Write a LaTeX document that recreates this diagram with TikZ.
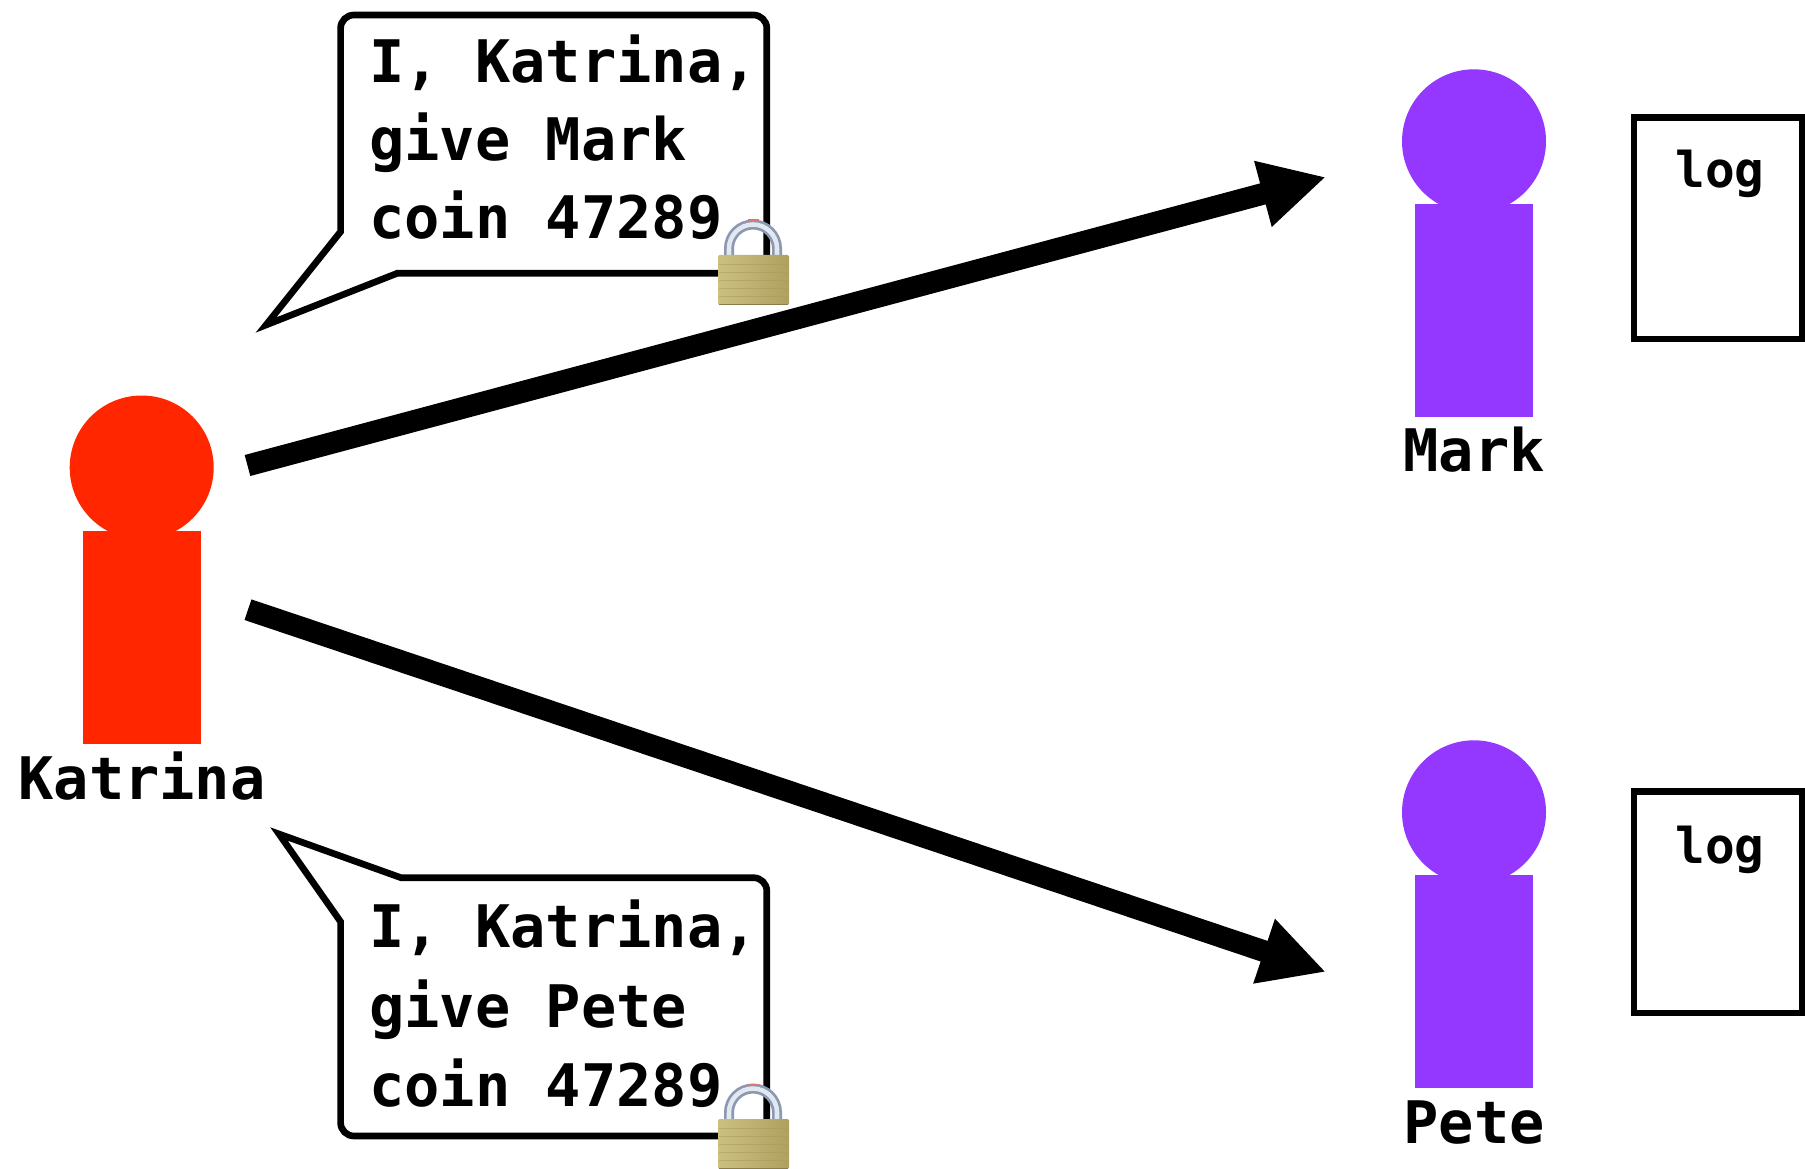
\documentclass[tikz,border=0pt]{standalone}
\usepackage{fontspec}
\usepackage{xcolor}
\usetikzlibrary{arrows.meta}
\setmonofont{DejaVu Sans Mono}

\definecolor{katrinared}{RGB}{255,38,0}
\definecolor{holderpurple}{RGB}{148,55,255}

\tikzset{
	sendline/.style={line width=16.3pt,-{Triangle[length=49pt,width=47.5pt]}},
	bubbleline/.style={line width=5pt,miter limit=10},
	logline/.style={line width=5.2pt},
	monotext/.style={font=\fontsize{44}{58.3}\selectfont\ttfamily\bfseries,inner sep=0pt,align=left},
	logtext/.style={font=\fontsize{37}{44}\selectfont\ttfamily\bfseries,inner sep=0pt},
	padlock/.pic={
		%Shackle
		\draw [color={rgb, 255:red, 140; green, 152; blue, 178 },line width=7.5pt] (11,-3) -- (11,6.5) arc (180:0:24) -- (59,-3) ;
		\draw [color={rgb, 255:red, 226; green, 232; blue, 240 },line width=3.4pt] (11,-3) -- (11,6.5) arc (180:0:24) -- (59,-3) ;
		\draw [color={rgb, 255:red, 214; green, 120; blue, 120 },line width=1.5pt] (30,34.5) -- (41,34.5) ;
		%Body
		\shade [left color={rgb, 255:red, 203; green, 192; blue, 128 },middle color={rgb, 255:red, 196; green, 182; blue, 116 },right color={rgb, 255:red, 176; green, 160; blue, 96 },rounded corners=1pt] (0,0) rectangle (71,-50) ;
		\draw [color={rgb, 255:red, 168; green, 152; blue, 92 },draw opacity=0.5,line width=0.4pt] (1,-9) -- (70,-9) (1,-17) -- (70,-17) (1,-25) -- (70,-25) (1,-33) -- (70,-33) (1,-41) -- (70,-41) ;
		\draw [color={rgb, 255:red, 140; green, 124; blue, 70 },line width=1pt] (1,-49.5) -- (70,-49.5) ;
	}
}

\begin{document}
\begin{tikzpicture}[x=0.75pt,y=0.75pt,yscale=-1,xscale=1]
	\useasboundingbox (0,0) rectangle (1805,1169);

	%Shape: Katrina
	\fill [katrinared] (141.7,467.5) circle [radius=72] ;
	\fill [katrinared] (83,531) rectangle (201,743.7) ;
	\node (katrinaName) [monotext,anchor=base] at (142,799) {Katrina};

	%Shape: Mark
	\fill [holderpurple] (1474,141.3) circle [radius=72] ;
	\fill [holderpurple] (1414.7,204) rectangle (1533,416.7) ;
	\node (markName) [monotext,anchor=base] at (1474,471.7) {Mark};

	%Shape: Pete
	\fill [holderpurple] (1474,812.3) circle [radius=72] ;
	\fill [holderpurple] (1414.7,875) rectangle (1533,1087.7) ;
	\node (peteName) [monotext,anchor=base] at (1474,1143) {Pete};

	%Shape: Logs
	\draw [logline] (1634,117.5) rectangle (1802.5,339) ;
	\node (markLog) [logtext,anchor=base] at (1720,188) {log};
	\draw [logline] (1634,791.5) rectangle (1802.5,1013) ;
	\node (peteLog) [logtext,anchor=base] at (1720,863.3) {log};

	%Arrows
	\coordinate (katrinaUp) at (247.5,465.5);
	\coordinate (katrinaDown) at (248,609.7);
	\coordinate (markIn) at (1326,177);
	\coordinate (peteIn) at (1326,972);
	\draw [sendline] (katrinaUp) -- (markIn) ;
	\draw [sendline] (katrinaDown) -- (peteIn) ;

	%Shape: Upper bubble
	\draw [bubbleline] (340.6,231.7) [rounded corners=10pt] -- (340.6,15) -- (766.8,15) -- (766.8,273.3) [sharp corners] -- (397.2,273.3) -- (266,325) -- cycle ;
	\node (markBubble) [monotext,anchor=north west] at (369,35) {I, Katrina,\\give Mark\\coin 47289};
	\pic (markLock) at (718,255) {padlock};

	%Shape: Lower bubble
	\draw [bubbleline] (401,877.7) [rounded corners=10pt] -- (766.8,877.7) -- (766.8,1136) -- (340.6,1136) [sharp corners] -- (340.6,921.7) -- (279,834) -- cycle ;
	\node (peteBubble) [monotext,anchor=north west] at (369,900) {I, Katrina,\\[1.2pt]give Pete\\[1.2pt]coin 47289};
	\pic (peteLock) at (718,1119) {padlock};
\end{tikzpicture}
\end{document}
